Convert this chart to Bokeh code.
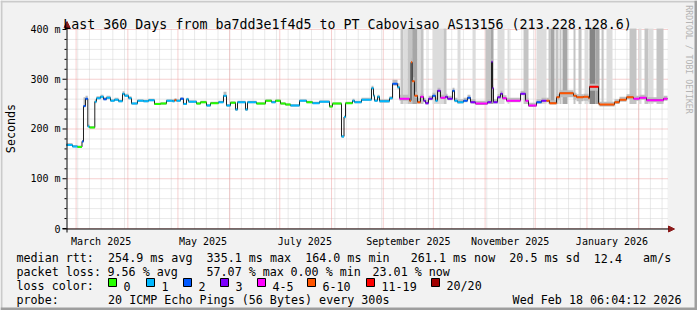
import math
from datetime import datetime, timedelta
from bokeh.plotting import figure
from bokeh.models import (ColumnDataSource, Label, BoxAnnotation, Arrow, NormalHead, Range1d)
from bokeh.core.properties import value
from bokeh.embed import file_html
from bokeh.resources import INLINE

# ---------------- data ----------------
START = datetime(2025, 2, 23, 6, 4, 12)
SPAN_DAYS = 360
Y_MAX = 402

# median rtt steps: start of each step (days since START), value (ms), loss class index
day = [0.0, 3.59, 6.59, 9.28, 10.18, 11.38, 12.76, 13.78, 16.95, 17.97,
       20.37, 22.17, 23.97, 26.36, 28.76, 31.15, 33.55, 34.74, 37.14, 38.94,
       42.53, 46.12, 49.11, 52.71, 56.30, 59.89, 63.49, 64.69, 65.89, 68.29,
       70.08, 71.88, 73.08, 77.87, 80.27, 83.86, 86.26, 91.05, 94.05, 95.84,
       98.24, 101.23, 102.43, 107.22, 108.42, 113.81, 119.20, 122.80, 125.19, 128.19,
       131.18, 134.18, 139.57, 143.76, 147.36, 151.55, 157.54, 159.34, 164.73, 166.23,
       167.13, 171.32, 172.52, 176.71, 182.70, 183.90, 184.50, 186.30, 187.49, 193.48,
       195.28, 198.28, 199.47, 205.46, 206.36, 207.08, 208.46, 210.26, 212.05, 213.85,
       215.05, 216.85, 219.24, 221.04, 222.24, 224.03, 227.03, 228.23, 231.22, 232.42,
       234.22, 237.81, 240.21, 242.00, 245.00, 252.19, 254.58, 255.18, 255.78, 258.18,
       259.97, 261.17, 263.57, 271.96, 274.95, 276.75, 281.54, 284.53, 287.53, 289.33,
       293.52, 295.32, 303.70, 305.50, 309.69, 312.69, 313.29, 318.68, 319.28, 328.26,
       331.26, 335.45, 339.64, 343.24, 347.43, 357.61]
rtt = [168, 165, 164, 175, 246, 261, 205, 203, 255, 262,
       265, 260, 263, 257, 259, 256, 271, 267, 262, 251,
       257, 256, 258, 250, 251, 257, 256, 258, 257, 261,
       250, 260, 255, 251, 254, 247, 252, 254, 267, 247,
       253, 239, 254, 239, 254, 251, 257, 254, 257, 251,
       249, 247, 257, 254, 252, 255, 245, 251, 185, 224,
       252, 257, 254, 259, 282, 267, 257, 265, 256, 262,
       291, 284, 261, 257, 334, 296, 267, 254, 265, 257,
       252, 261, 267, 257, 277, 263, 265, 261, 277, 257,
       254, 257, 263, 254, 251, 254, 335, 282, 254, 264,
       271, 262, 257, 271, 257, 247, 254, 257, 257, 252,
       264, 272, 267, 264, 265, 262, 285, 251, 249, 254,
       259, 264, 261, 263, 258, 261]
loss = [1, 1, 0, 2, 2, 2, 1, 0, 1, 1,
        1, 2, 1, 1, 1, 1, 1, 1, 1, 1,
        1, 1, 1, 0, 0, 1, 1, 5, 1, 2,
        1, 1, 1, 0, 0, 1, 0, 1, 1, 1,
        0, 1, 1, 1, 1, 0, 0, 1, 0, 0,
        0, 1, 1, 0, 1, 1, 0, 0, 1, 1,
        0, 1, 1, 1, 1, 1, 1, 1, 1, 1,
        2, 1, 4, 5, 5, 5, 5, 5, 4, 3,
        3, 3, 2, 1, 3, 4, 3, 3, 2, 1,
        1, 2, 2, 3, 4, 3, 3, 3, 3, 3,
        3, 4, 4, 3, 4, 4, 2, 3, 5, 5,
        5, 5, 5, 5, 5, 5, 6, 5, 5, 5,
        5, 5, 4, 4, 4, 4]
# smoke spread around the median (ms above / below)
smoke_up = [4, 3, 3, 3, 18, 6, 4, 3, 5, 4,
            4, 4, 4, 3, 4, 3, 5, 4, 4, 3,
            3, 3, 3, 3, 3, 3, 4, 4, 3, 3,
            3, 3, 3, 3, 3, 3, 3, 3, 8, 3,
            3, 3, 3, 3, 3, 3, 3, 3, 3, 3,
            3, 3, 3, 3, 3, 3, 3, 3, 3, 3,
            3, 4, 3, 4, 5, 4, 3, 4, 4, 4,
            8, 8, 8, 6, 8, 8, 8, 8, 6, 6,
            6, 6, 6, 6, 6, 6, 6, 6, 6, 6,
            6, 6, 6, 6, 6, 6, 6, 6, 6, 6,
            6, 6, 6, 6, 6, 6, 6, 6, 6, 6,
            6, 6, 6, 6, 6, 6, 6, 6, 6, 6,
            6, 6, 6, 6, 6, 6]
smoke_dn = [2, 2, 2, 2, 3, 3, 2, 2, 3, 2,
            3, 2, 3, 2, 2, 2, 3, 2, 2, 2,
            2, 2, 2, 2, 2, 2, 2, 2, 2, 2,
            2, 2, 2, 2, 2, 2, 2, 2, 2, 2,
            2, 3, 2, 3, 2, 2, 2, 2, 2, 2,
            2, 2, 2, 2, 2, 2, 2, 2, 3, 3,
            2, 2, 2, 2, 3, 3, 2, 3, 3, 3,
            4, 4, 4, 3, 4, 4, 4, 3, 3, 3,
            3, 3, 3, 3, 3, 3, 3, 3, 3, 3,
            3, 3, 3, 3, 3, 3, 3, 3, 3, 3,
            3, 3, 3, 3, 3, 3, 3, 3, 3, 3,
            6, 8, 8, 8, 8, 8, 8, 4, 4, 4,
            4, 4, 4, 4, 4, 4]

# high-latency "smoke" bands (days since START) and their intensity
band_start = [200.07, 201.87, 204.27, 207.08, 210.26, 212.05, 215.65, 219.24, 225.83, 234.22,
              243.20, 250.99, 253.98, 258.18, 264.17, 273.75, 281.54, 288.73, 289.93, 292.92,
              295.32, 297.11, 303.70, 306.70, 310.29, 313.29, 316.88, 320.48, 323.47, 337.25,
              342.64, 346.23, 348.63, 353.42]
band_end = [201.87, 204.27, 207.08, 210.26, 212.05, 213.85, 216.25, 225.83, 227.63, 236.01,
            245.00, 253.98, 255.78, 262.37, 265.37, 276.75, 287.53, 289.93, 292.32, 294.72,
            296.51, 300.11, 304.90, 308.50, 312.69, 316.88, 319.28, 321.67, 327.06, 341.44,
            344.44, 348.63, 351.62, 357.61]
band_level = [2, 1, 2, 3, 1, 2, 1, 1, 2, 1,
              1, 2, 3, 1, 1, 2, 1, 2, 3, 2,
              2, 3, 2, 2, 1, 4, 3, 2, 1, 2,
              1, 2, 1, 2]
band_floor = 250

loss_labels = ["0", "1", "2", "3", "4-5", "6-10", "11-19", "20/20"]
loss_colors = ["#26ff00", "#00b8ff", "#0059ff", "#7e00ff", "#ff00ff", "#ff5500", "#ff0000", "#a10000"]
band_colors = {1: "#dcdcdc", 2: "#c4c4c4", 3: "#a6a6a6", 4: "#858585"}

y_ticks = [0, 100, 200, 300, 400]
y_tick_labels = ["0", "100 m", "200 m", "300 m", "400 m"]
y_minor = [v for v in range(20, 401, 20) if v % 100]

title = "Last 360 Days from ba7dd3e1f4d5 to PT Cabovisao AS13156 (213.228.128.6)"
rtt_line = "median rtt:  254.9 ms avg  335.1 ms max  164.0 ms min   261.1 ms now  20.5 ms sd  12.4   am/s"
loss_line = ["packet loss:", "9.56 % avg", "57.07 % max", "0.00 % min", "23.01 % now"]
probe_text = "20 ICMP Echo Pings (56 Bytes) every 300s"
stamp = "Wed Feb 18 06:04:12 2026"


def days_from_start(dt):
    return (dt - START).total_seconds() / 86400.0


month_starts = []
y_, m_ = 2025, 3
while True:
    d = days_from_start(datetime(y_, m_, 1))
    if d > SPAN_DAYS:
        break
    month_starts.append(d)
    m_ += 1
    if m_ > 12:
        m_, y_ = 1, y_ + 1
sundays = []
s = datetime(2025, 3, 2)
while days_from_start(s) < SPAN_DAYS:
    sundays.append(days_from_start(s))
    s += timedelta(days=7)
label_months = [(2025, 3), (2025, 5), (2025, 7), (2025, 9), (2025, 11), (2026, 1)]
x_label_ticks = [days_from_start(datetime(a, b, 1) + timedelta(days=15)) for a, b in label_months]
x_label_text = [datetime(a, b, 1).strftime("%B %Y") for a, b in label_months]

# ---------------- layout geometry (pixels of the 697x310 canvas) ----------------
W, H = 697, 310
FL, FR, FT, FB = 66, 667, 28, 228
MONO = "DejaVu Sans Mono"


def X(px):
    return (px - FL) / (FR - FL) * SPAN_DAYS


def Y(py):
    return (FB - py) / (FB - FT) * Y_MAX


p = figure(width=W, height=H, x_range=Range1d(X(0), X(W)), y_range=Range1d(Y(H), Y(0)),
           output_backend="svg", toolbar_location=None,
           x_axis_location=None, y_axis_location=None,
           min_border_left=0, min_border_right=0, min_border_top=0, min_border_bottom=0,
           background_fill_color="#f2f2f2", border_fill_color="#f2f2f2", outline_line_color=None)
p.xgrid.visible = False
p.ygrid.visible = False

# plot canvas
p.quad(left=[0], right=[SPAN_DAYS], bottom=[0], top=[Y_MAX], fill_color="white", line_color=None)

# grid: minor then major
GRID_MINOR = "#d2d2d2"
GRID_MAJOR = "#eda0a0"
p.segment(x0=sundays, y0=[0] * len(sundays), x1=sundays, y1=[Y_MAX] * len(sundays),
          line_color=GRID_MINOR, line_dash="1 1", line_width=1)
p.segment(x0=[0] * len(y_minor), y0=y_minor, x1=[SPAN_DAYS] * len(y_minor), y1=y_minor,
          line_color=GRID_MINOR, line_dash="1 1", line_width=1)
p.segment(x0=month_starts, y0=[0] * len(month_starts), x1=month_starts, y1=[Y_MAX] * len(month_starts),
          line_color=GRID_MAJOR, line_dash="1 1", line_width=1)
p.segment(x0=[0] * len(y_ticks), y0=y_ticks, x1=[SPAN_DAYS] * len(y_ticks), y1=y_ticks,
          line_color=GRID_MAJOR, line_dash="1 1", line_width=1)

# bands
bsrc = ColumnDataSource(dict(left=band_start, right=band_end,
                             bottom=[band_floor] * len(band_start),
                             top=[Y_MAX] * len(band_start),
                             color=[band_colors[l] for l in band_level]))
p.quad(left="left", right="right", bottom="bottom", top="top", fill_color="color",
       line_color=None, source=bsrc)

# smoke
ends = day[1:] + [SPAN_DAYS]
ssrc = ColumnDataSource(dict(left=day, right=ends,
                             bottom=[r - d for r, d in zip(rtt, smoke_dn)],
                             top=[r + u for r, u in zip(rtt, smoke_up)]))
p.quad(left="left", right="right", bottom="bottom", top="top", fill_color="#bdbdbd",
       line_color=None, source=ssrc)

# median line (black step + loss coloured segments)
p.step(x=day + [SPAN_DAYS], y=rtt + [rtt[-1]], mode="after", line_color="#202020", line_width=1)
msrc = ColumnDataSource(dict(x0=day, x1=ends, y=rtt, color=[loss_colors[l] for l in loss]))
p.segment(x0="x0", y0="y", x1="x1", y1="y", line_color="color", line_width=2, source=msrc)

# y ticks and tick labels
p.segment(x0=[X(62)] * len(y_ticks), y0=y_ticks, x1=[0] * len(y_ticks), y1=y_ticks,
          line_color="black", line_width=1)
p.segment(x0=[X(64)] * len(y_minor), y0=y_minor, x1=[0] * len(y_minor), y1=y_minor,
          line_color="black", line_width=1)
p.text(x=[X(60)] * len(y_ticks), y=y_ticks, text=y_tick_labels, text_align="right",
       text_baseline="middle", text_font=value(MONO), text_font_size="10px", text_color="black")
# x tick labels
p.text(x=x_label_ticks, y=[Y(241)] * len(x_label_ticks), text=x_label_text, text_align="center",
       text_baseline="alphabetic", text_font=value(MONO), text_font_size="10px", text_color="black")

# axes with arrows
ARROW = "#8b1a1a"
p.add_layout(Arrow(end=NormalHead(size=6, fill_color=ARROW, line_color=ARROW),
                   x_start=X(66.5), y_start=Y(232), x_end=X(66.5), y_end=Y(21),
                   line_color="black", line_width=1))
p.add_layout(Arrow(end=NormalHead(size=6, fill_color=ARROW, line_color=ARROW),
                   x_start=X(62), y_start=Y(228.5), x_end=X(674), y_end=Y(228.5),
                   line_color="black", line_width=1))


def lab(text, px, py, size="11.7px", align="left", baseline="alphabetic", angle=0, color="black"):
    p.add_layout(Label(x=X(px), y=Y(py), text=text, text_font=MONO, text_font_size=size,
                       text_align=align, text_baseline=baseline, angle=angle, text_color=color))


lab(title, 347, 24, size="13.3px", align="center")
lab("Seconds", 10, 128, align="center", baseline="middle", angle=math.pi / 2)
lab("RRDTOOL / TOBI OETIKER", 688, 59, size="8.2px", align="center", baseline="middle",
    angle=-math.pi / 2, color="#b4b4b4")

CW = 7.04
X0 = 16


def place_line(line, py):
    i = 0
    while i < len(line):
        if line[i] == " ":
            i += 1
            continue
        j = i
        while j < len(line) and not (line[j] == " " and j + 1 < len(line) and line[j + 1] == " "):
            j += 1
        lab(line[i:j].strip(), X0 + i * CW, py)
        i = j


place_line(rtt_line, 257.5)
for txt, px in zip(loss_line, [X0, 107, 206, 290, 372]):
    lab(txt, px, 271.5)
lab("loss color:", X0, 285.5)
box_x = [108, 146, 183, 220, 257, 307, 366, 431]
for bx, c, t in zip(box_x, loss_colors, loss_labels):
    p.add_layout(BoxAnnotation(left=X(bx), right=X(bx + 8), top=Y(278), bottom=Y(286),
                               fill_color=c, fill_alpha=1, line_color="black", line_alpha=1,
                               line_width=1))
    lab(t, bx + 15, 285.5)
lab("probe:", X0, 299.5)
lab(probe_text, X0 + 13 * CW, 299.5)
lab(stamp, 681, 299.5, align="right")

# 3D frame shading
for l, r, t, b, c in [(0, W, 0, 2, "#cbcbcb"), (0, 2, 0, H, "#cbcbcb"),
                      (0, W, H - 3, H, "#9e9e9e"), (W - 3, W, 0, H, "#9e9e9e")]:
    p.add_layout(BoxAnnotation(left=X(l), right=X(r), top=Y(t), bottom=Y(b),
                               fill_color=c, fill_alpha=1, line_color=None))

open("out.html", "w").write(file_html(p, INLINE))
